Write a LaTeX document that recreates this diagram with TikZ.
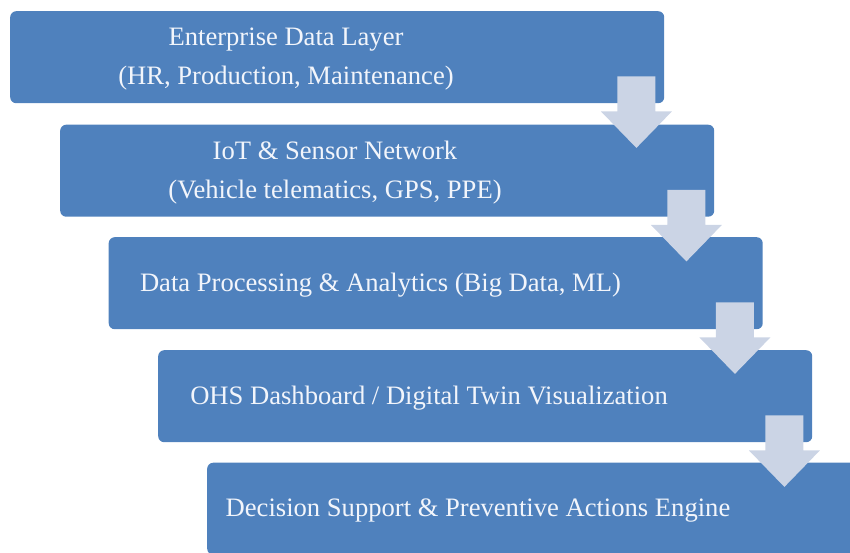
\documentclass[tikz,border=0pt]{standalone}
\usepackage{fontspec}
\setmainfont{Liberation Serif}
\usetikzlibrary{calc}
\definecolor{boxblue}{RGB}{79,129,189}
\definecolor{arrowgrey}{RGB}{203,212,229}
\definecolor{textwhite}{RGB}{242,245,251}
\tikzset{
  layerbox/.style={fill=boxblue, draw=none, rounded corners=6pt, minimum width=654pt, minimum height=92pt, inner sep=0pt, anchor=north west},
  layertext/.style={text=textwhite, align=center, font=\fontsize{26.6}{38.5}\selectfont, inner sep=0pt},
  downarrow/.style={fill=arrowgrey, draw=none}
}
\newcommand{\layerarrow}[1]{%
  \fill[downarrow] ($(#1.south east)+(-47,-27)$) -- ($(#1.south east)+(-9,-27)$) -- ($(#1.south east)+(-9,8)$) -- ($(#1.south east)+(7.5,8)$) -- ($(#1.south east)+(-28,44.5)$) -- ($(#1.south east)+(-63.5,8)$) -- ($(#1.south east)+(-47,8)$) -- cycle;}
\begin{document}
\begin{tikzpicture}[x=1pt,y=-1pt]
\useasboundingbox (0,0) rectangle (850,552);
\clip (0,0) rectangle (850,552);
\node[layerbox] (b1) at (10,11) {};
\node[layerbox] (b2) at (60,124.5) {};
\node[layerbox] (b3) at (108.5,237) {};
\node[layerbox] (b4) at (158,350) {};
\node[layerbox] (b5) at (207,462.5) {};
\node[layertext] (t1) at ($(b1.west)+(276,2)$) {Enterprise Data Layer\\(HR, Production, Maintenance)};
\node[layertext] (t2) at ($(b2.west)+(275,2)$) {IoT \& Sensor Network\\(Vehicle telematics, GPS, PPE)};
\node[layertext] (t3) at ($(b3.west)+(272,2)$) {Data Processing \& Analytics (Big Data, ML)};
\node[layertext] (t4) at ($(b4.west)+(271,2)$) {OHS Dashboard / Digital Twin Visualization};
\node[layertext] (t5) at ($(b5.west)+(271,2)$) {Decision Support \& Preventive Actions Engine};
\layerarrow{b1}
\layerarrow{b2}
\layerarrow{b3}
\layerarrow{b4}
\end{tikzpicture}
\end{document}
